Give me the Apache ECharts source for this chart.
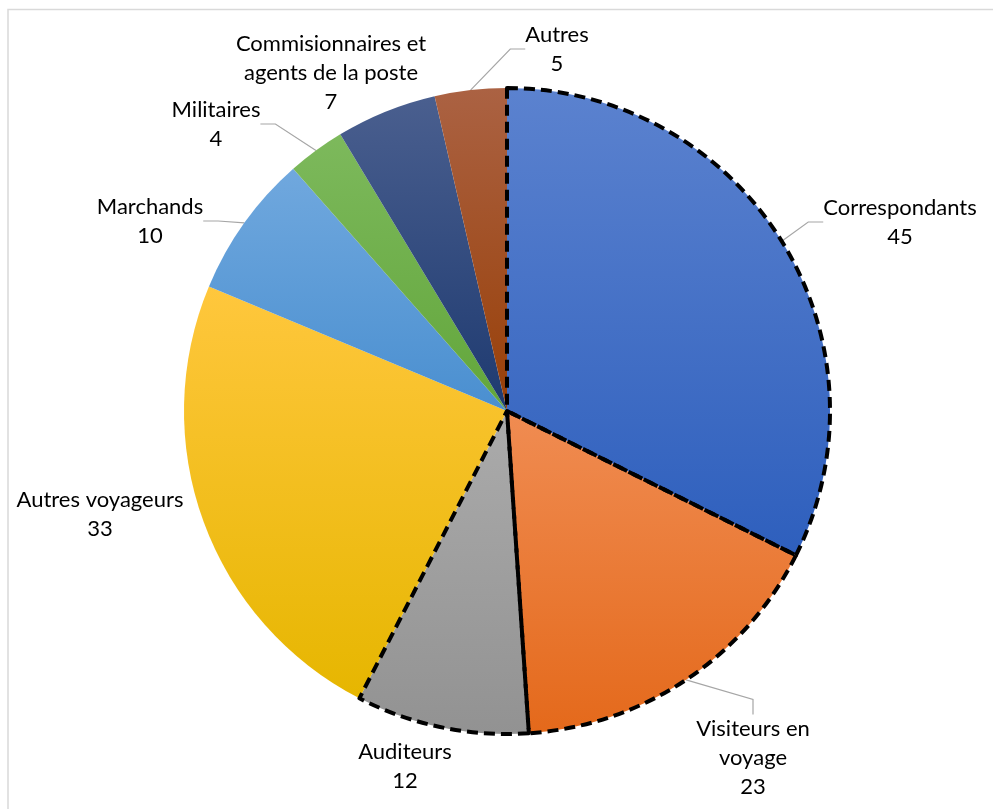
<!DOCTYPE html>
<html>
<head>
<meta charset="utf-8">
<script src="https://cdn.jsdelivr.net/npm/echarts@6/dist/echarts.min.js"></script>
<style>
html,body{margin:0;padding:0;background:#fff;}
#main{width:993px;height:809px;}
</style>
</head>
<body>
<div id="main"></div>
<script>
const categories = ['Correspondants', 'Visiteurs en\nvoyage', 'Auditeurs', 'Autres voyageurs', 'Marchands', 'Militaires', 'Commisionnaires et\nagents de la poste', 'Autres'];
const values = [45, 23, 12, 33, 10, 4, 7, 5];
const dashed = [true, true, true, false, false, false, false, false];
const leader = [true, true, false, false, true, true, false, true];
const colorTop = ['#5b82cf', '#f08c52', '#ababab', '#ffc73d', '#70a8de', '#7db95c', '#4a5f8f', '#ab6243'];
const colorBottom = ['#2e5fbd', '#e4691b', '#929292', '#e6b600', '#4a8fd0', '#62a63b', '#1e3a70', '#983f07'];
const labelPos = [[900, 222], [753, 758], [405, 766], [100, 514], [150, 221], [216, 124], [331, 73], [557, 49]];

const chart = echarts.init(document.getElementById('main'));
const fontFamily = 'Lato, "Open Sans", sans-serif';

const mainData = categories.map((c, i) => ({
  name: c,
  value: values[i],
  itemStyle: {
    color: new echarts.graphic.LinearGradient(0, 0, 0, 1, [
      {offset: 0, color: colorTop[i]},
      {offset: 1, color: colorBottom[i]}
    ])
  },
  labelLine: {show: leader[i]}
}));

const overlayData = categories.map((c, i) => ({
  name: c,
  value: values[i],
  itemStyle: dashed[i] ? {
    color: 'rgba(0,0,0,0)', borderColor: '#000', borderWidth: 4, borderType: [11, 6]
  } : {color: 'rgba(0,0,0,0)', borderWidth: 0}
}));

chart.setOption({
  animation: false,
  graphic: [{
    type: 'rect', shape: {x: 8, y: 9.5, width: 1100, height: 900},
    style: {fill: 'none', stroke: '#d9d9d9', lineWidth: 1.5}, silent: true
  }],
  series: [{
    type: 'pie',
    center: [507, 411],
    radius: 323,
    startAngle: 90,
    clockwise: true,
    data: mainData,
    itemStyle: {borderWidth: 0},
    label: {
      show: true,
      position: 'outside',
      formatter: '{b}\n{c}',
      fontFamily: fontFamily,
      fontSize: 22,
      lineHeight: 29,
      color: '#000',
      align: 'center',
      overflow: 'none'
    },
    labelLine: {show: true, lineStyle: {color: '#a6a6a6', width: 1.2}, length: 20, length2: 15},
    labelLayout: function (p) {
      const pos = labelPos[p.dataIndex];
      return {x: pos[0], y: pos[1], align: 'center', verticalAlign: 'middle'};
    },
    emphasis: {disabled: true}
  }, {
    type: 'pie',
    center: [507, 411],
    radius: 323,
    startAngle: 90,
    clockwise: true,
    silent: true,
    data: overlayData,
    label: {show: false},
    labelLine: {show: false},
    emphasis: {disabled: true}
  }]
});
</script>
</body>
</html>
